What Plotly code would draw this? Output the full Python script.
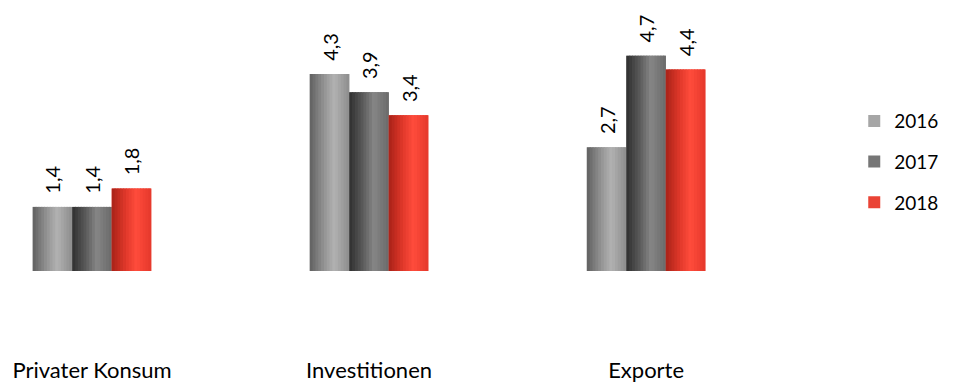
import plotly.graph_objects as go

# Real growth rates in percent
categories = ["Privater Konsum", "Investitionen", "Exporte"]
years = ["2016", "2017", "2018"]
values_2016 = [1.4, 4.3, 2.7]
values_2017 = [1.4, 3.9, 4.7]
values_2018 = [1.8, 3.4, 4.4]

series = [values_2016, values_2017, values_2018]

# Solid swatch colours and horizontal (cylinder-like) gradient stops per year
swatch = ["#a6a6a6", "#767676", "#ea4335"]
gradients = [
    [(0.0, (0x60, 0x60, 0x60)), (0.35, (0x92, 0x92, 0x92)), (0.62, (0xb2, 0xb2, 0xb2)), (1.0, (0x8c, 0x8c, 0x8c))],
    [(0.0, (0x30, 0x30, 0x30)), (0.35, (0x5c, 0x5c, 0x5c)), (0.62, (0x86, 0x86, 0x86)), (1.0, (0x6a, 0x6a, 0x6a))],
    [(0.0, (0xa8, 0x22, 0x18)), (0.35, (0xe0, 0x38, 0x2a)), (0.62, (0xff, 0x4c, 0x3c)), (1.0, (0xe4, 0x38, 0x2b))],
]

BAR_W = 0.1426     # width of one bar in category units
N_SLICES = 14      # vertical strips used to shade each bar
FONT = "Lato"


def shade(stops, t):
    for (p0, c0), (p1, c1) in zip(stops, stops[1:]):
        if p0 <= t <= p1:
            f = (t - p0) / (p1 - p0)
            r, g, b = (round(a + (b_ - a) * f) for a, b_ in zip(c0, c1))
            return f"rgb({r},{g},{b})"
    r, g, b = stops[-1][1]
    return f"rgb({r},{g},{b})"


fig = go.Figure()

for i, (year, vals) in enumerate(zip(years, series)):
    start = -1.5 * BAR_W + i * BAR_W
    # full bar: carries legend entry and value label
    fig.add_trace(go.Bar(
        x=categories, y=vals, name=year,
        offset=start, width=BAR_W,
        marker=dict(color=swatch[i], line=dict(width=0)),
        text=vals, texttemplate="\u00a0\u00a0%{y:.1f}", textposition="outside",
        textangle=-90, textfont=dict(family=FONT, size=20, color="#000000"),
        cliponaxis=False, legendgroup=year, hoverinfo="skip",
    ))
    # shading strips drawn over the bar
    sw = BAR_W / N_SLICES
    for k in range(N_SLICES):
        t = (k + 0.5) / N_SLICES
        last = k == N_SLICES - 1
        fig.add_trace(go.Bar(
            x=categories, y=vals, showlegend=False,
            offset=start + k * sw, width=sw if last else sw * 1.4,
            marker=dict(color=shade(gradients[i], t), line=dict(width=0)),
            legendgroup=year, hoverinfo="skip",
        ))

fig.update_layout(
    width=954, height=383,
    margin=dict(l=0, r=104, t=20, b=112),
    paper_bgcolor="white", plot_bgcolor="white",
    barmode="overlay",
    separators=",.",
    showlegend=True,
    legend=dict(
        x=1.005, y=0.434, xanchor="left", yanchor="middle",
        font=dict(family=FONT, size=19, color="#000000"),
        tracegroupgap=13, itemwidth=30,
        bgcolor="rgba(0,0,0,0)",
    ),
    xaxis=dict(
        type="category", range=[-0.332, 2.736],
        showgrid=False, zeroline=False, showline=False, ticks="",
        tickfont=dict(family=FONT, size=22, color="#000000"),
        ticklabelstandoff=84, automargin=False,
    ),
    yaxis=dict(
        range=[0, 5.48], visible=False, showgrid=False, zeroline=False,
        automargin=False,
    ),
)

fig.write_html("out.html")
